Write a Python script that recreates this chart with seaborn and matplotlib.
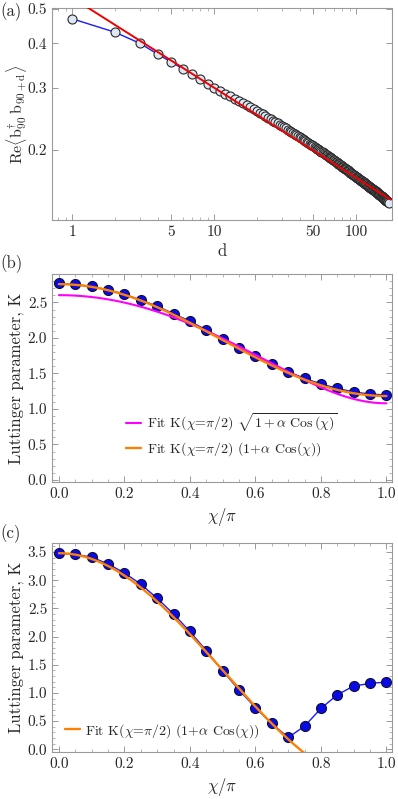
import numpy as np
import matplotlib
matplotlib.use("Agg")
import matplotlib.pyplot as plt
import matplotlib.ticker as mticker
import seaborn as sns

# panel (a): correlation vs distance d
d_vals = list(range(1, 171))
corr_vals = [
    0.469, 0.430, 0.400, 0.373, 0.354, 0.339, 0.327, 0.317, 0.308, 0.300,
    0.2938, 0.2883, 0.2833, 0.2788, 0.2746, 0.2708, 0.2672, 0.2639, 0.2608, 0.258,
    0.2550, 0.2521, 0.2495, 0.2469, 0.2445, 0.2422, 0.2400, 0.2379, 0.2359, 0.234,
    0.2320, 0.2301, 0.2283, 0.2265, 0.2248, 0.2232, 0.2216, 0.2201, 0.2186, 0.2172,
    0.2158, 0.2145, 0.2132, 0.2119, 0.2107, 0.2095, 0.2083, 0.2072, 0.2061, 0.205,
    0.2039, 0.2028, 0.2018, 0.2007, 0.1997, 0.1987, 0.1978, 0.1969, 0.1959, 0.1950,
    0.1942, 0.1933, 0.1925, 0.1916, 0.1908, 0.1900, 0.1893, 0.1885, 0.1877, 0.187,
    0.1862, 0.1854, 0.1847, 0.1839, 0.1832, 0.1824, 0.1817, 0.1810, 0.1803, 0.1796,
    0.1790, 0.1783, 0.1777, 0.1770, 0.1764, 0.1758, 0.1752, 0.1746, 0.1740, 0.1734,
    0.1728, 0.1723, 0.1717, 0.1712, 0.1706, 0.1701, 0.1696, 0.1690, 0.1685, 0.168,
    0.1675, 0.1670, 0.1665, 0.1660, 0.1656, 0.1651, 0.1646, 0.1642, 0.1637, 0.1633,
    0.1628, 0.1624, 0.1620, 0.1615, 0.1611, 0.1607, 0.1603, 0.1599, 0.1595, 0.1591,
    0.1587, 0.1583, 0.1579, 0.1575, 0.1571, 0.1568, 0.1564, 0.1560, 0.1556, 0.1553,
    0.1549, 0.1546, 0.1542, 0.1539, 0.1535, 0.1532, 0.1528, 0.1525, 0.1522, 0.1519,
    0.1515, 0.1512, 0.1508, 0.1504, 0.1501, 0.1497, 0.1494, 0.1490, 0.1487, 0.1483,
    0.1480, 0.1476, 0.1473, 0.1470, 0.1466, 0.1463, 0.1460, 0.1457, 0.1453, 0.1450,
    0.1447, 0.1444, 0.1441, 0.1438, 0.1435, 0.1432, 0.1429, 0.1426, 0.1423, 0.142,
]
# power-law fit A * d^p
pow_amp = 0.538
pow_exp = -0.254

# panels (b) and (c): Luttinger parameter vs chi/pi
chi_vals = [0.0, 0.05, 0.1, 0.15, 0.2, 0.25, 0.3, 0.35, 0.4, 0.45, 0.5,
            0.55, 0.6, 0.65, 0.7, 0.75, 0.8, 0.85, 0.9, 0.95, 1.0]
k_b = [2.767, 2.753, 2.725, 2.678, 2.617, 2.533, 2.448, 2.341, 2.237, 2.111, 1.984,
       1.862, 1.740, 1.628, 1.524, 1.431, 1.351, 1.290, 1.238, 1.210, 1.196]
k_c = [3.48, 3.46, 3.41, 3.29, 3.13, 2.93, 2.68, 2.40, 2.09, 1.75, 1.39,
       1.05, 0.736, 0.457, 0.208, 0.409, 0.724, 0.967, 1.121, 1.169, 1.192]

# fit parameters
b_sqrt_k0, b_sqrt_alpha = 1.9925, 0.7068
b_lin_k0, b_lin_alpha = 1.97, 0.40
c_lin_k0, c_lin_alpha = 1.40, 1.486

sns.set_style("ticks")
plt.rcParams['font.family'] = ['cmr10', 'DejaVu Serif']
plt.rcParams['mathtext.fontset'] = 'cm'
plt.rcParams['axes.formatter.use_mathtext'] = True
plt.rcParams['font.size'] = 10.5

frame_col = '#9a9a9a'


def style_frame(ax):
    for sp in ax.spines.values():
        sp.set_visible(True)
        sp.set_color(frame_col)
        sp.set_linewidth(0.8)
    ax.tick_params(which='both', direction='in', top=True, right=True,
                   color=frame_col, labelsize=11)
    ax.tick_params(which='major', length=4, width=0.7)
    ax.tick_params(which='minor', length=2, width=0.5)
    ax.yaxis.label.set_va('center')
    ax.yaxis.set_label_coords(-0.105, 0.5)


fig = plt.figure(figsize=(3.98, 7.99), dpi=100)
ax_a = fig.add_axes([0.1307, 0.7247, 0.8543, 0.2653])
ax_b = fig.add_axes([0.1307, 0.3967, 0.8543, 0.2603])
ax_c = fig.add_axes([0.1307, 0.0588, 0.8543, 0.2615])

# ---- (a)
sns.lineplot(x=d_vals, y=corr_vals, ax=ax_a, color='#1a1aff', lw=1.0,
             marker='o', markersize=6.5, markerfacecolor='#dce9f5',
             markeredgecolor='#2a2a2a', markeredgewidth=0.8, zorder=2)
d_fit = np.geomspace(1, 175, 200)
sns.lineplot(x=d_fit, y=pow_amp * d_fit ** pow_exp, ax=ax_a, color='#ee0000',
             lw=1.4, zorder=3)
ax_a.set_xscale('log')
ax_a.set_yscale('log')
ax_a.set_xlim(0.723, 179)
ax_a.set_ylim(0.127, 0.503)
ax_a.set_xticks([1, 5, 10, 50, 100])
ax_a.get_xaxis().set_major_formatter(mticker.FuncFormatter(lambda v, p: '%d' % v))
ax_a.set_yticks([0.2, 0.3, 0.4, 0.5])
ax_a.get_yaxis().set_major_formatter(mticker.FuncFormatter(lambda v, p: '%.1f' % v))
ax_a.yaxis.set_minor_formatter(mticker.NullFormatter())
ax_a.xaxis.set_minor_formatter(mticker.NullFormatter())
ax_a.set_xlabel('d', fontsize=12)
ax_a.set_ylabel(r'Re$\langle\mathrm{b}^{\dagger}_{90}\,\mathrm{b}_{90+\mathrm{d}}\rangle$',
                fontsize=11.5)
style_frame(ax_a)

# ---- (b)
chi_fit = np.linspace(0, 1, 300)
sns.lineplot(x=chi_vals, y=k_b, ax=ax_b, color='#1a1aff', lw=1.0, marker='o',
             markersize=7.2, markerfacecolor='#0a0ae6', markeredgecolor='#101030',
             markeredgewidth=0.8, zorder=2)
sns.lineplot(x=chi_fit, y=b_sqrt_k0 * np.sqrt(1 + b_sqrt_alpha * np.cos(np.pi * chi_fit)),
             ax=ax_b, color='#ff00ff', lw=1.5, zorder=3,
             label=r'Fit K($\chi$=$\pi$/2) $\sqrt{1+\alpha\ \mathrm{Cos}\,(\chi)}$')
sns.lineplot(x=chi_fit, y=b_lin_k0 * (1 + b_lin_alpha * np.cos(np.pi * chi_fit)),
             ax=ax_b, color='#ff8000', lw=1.7, zorder=4,
             label=r'Fit K($\chi$=$\pi$/2) (1+$\alpha$ Cos($\chi$))')
ax_b.set_xlim(-0.021, 1.017)
ax_b.set_ylim(-0.03, 2.9)
ax_b.set_yticks(np.arange(0, 2.51, 0.5))
ax_b.yaxis.set_minor_locator(mticker.MultipleLocator(0.1))
ax_b.xaxis.set_minor_locator(mticker.MultipleLocator(0.05))
ax_b.get_yaxis().set_major_formatter(mticker.FormatStrFormatter('%.1f'))
ax_b.get_xaxis().set_major_formatter(mticker.FormatStrFormatter('%.1f'))
ax_b.set_xlabel(r'$\chi/\pi$', fontsize=12)
ax_b.set_ylabel('Luttinger parameter, K', fontsize=12)
ax_b.legend(loc='upper left', bbox_to_anchor=(0.18, 0.40), frameon=False,
            handlelength=1.1, handletextpad=0.4, fontsize=10, labelspacing=0.45)
style_frame(ax_b)

# ---- (c)
sns.lineplot(x=chi_vals, y=k_c, ax=ax_c, color='#1a1aff', lw=1.0, marker='o',
             markersize=7.2, markerfacecolor='#0a0ae6', markeredgecolor='#101030',
             markeredgewidth=0.8, zorder=2)
sns.lineplot(x=chi_fit, y=c_lin_k0 * (1 + c_lin_alpha * np.cos(np.pi * chi_fit)),
             ax=ax_c, color='#ff8000', lw=1.7, zorder=4,
             label=r'Fit K($\chi$=$\pi$/2) (1+$\alpha$ Cos($\chi$))')
ax_c.set_xlim(-0.021, 1.017)
ax_c.set_ylim(-0.05, 3.66)
ax_c.set_yticks(np.arange(0, 3.51, 0.5))
ax_c.yaxis.set_minor_locator(mticker.MultipleLocator(0.1))
ax_c.xaxis.set_minor_locator(mticker.MultipleLocator(0.05))
ax_c.get_yaxis().set_major_formatter(mticker.FormatStrFormatter('%.1f'))
ax_c.get_xaxis().set_major_formatter(mticker.FormatStrFormatter('%.1f'))
ax_c.set_xlabel(r'$\chi/\pi$', fontsize=12)
ax_c.set_ylabel('Luttinger parameter, K', fontsize=12)
ax_c.legend(loc='lower left', bbox_to_anchor=(0.0, 0.0), frameon=False,
            handlelength=1.1, handletextpad=0.4, fontsize=10)
style_frame(ax_c)

fig.text(0.0, 1 - 12 / 799, '(a)', fontsize=12, va='center', ha='left')
fig.text(0.0, 1 - 264 / 799, '(b)', fontsize=12, va='center', ha='left')
fig.text(0.0, 1 - 534 / 799, '(c)', fontsize=12, va='center', ha='left')

fig.savefig('out.png', dpi=100)
